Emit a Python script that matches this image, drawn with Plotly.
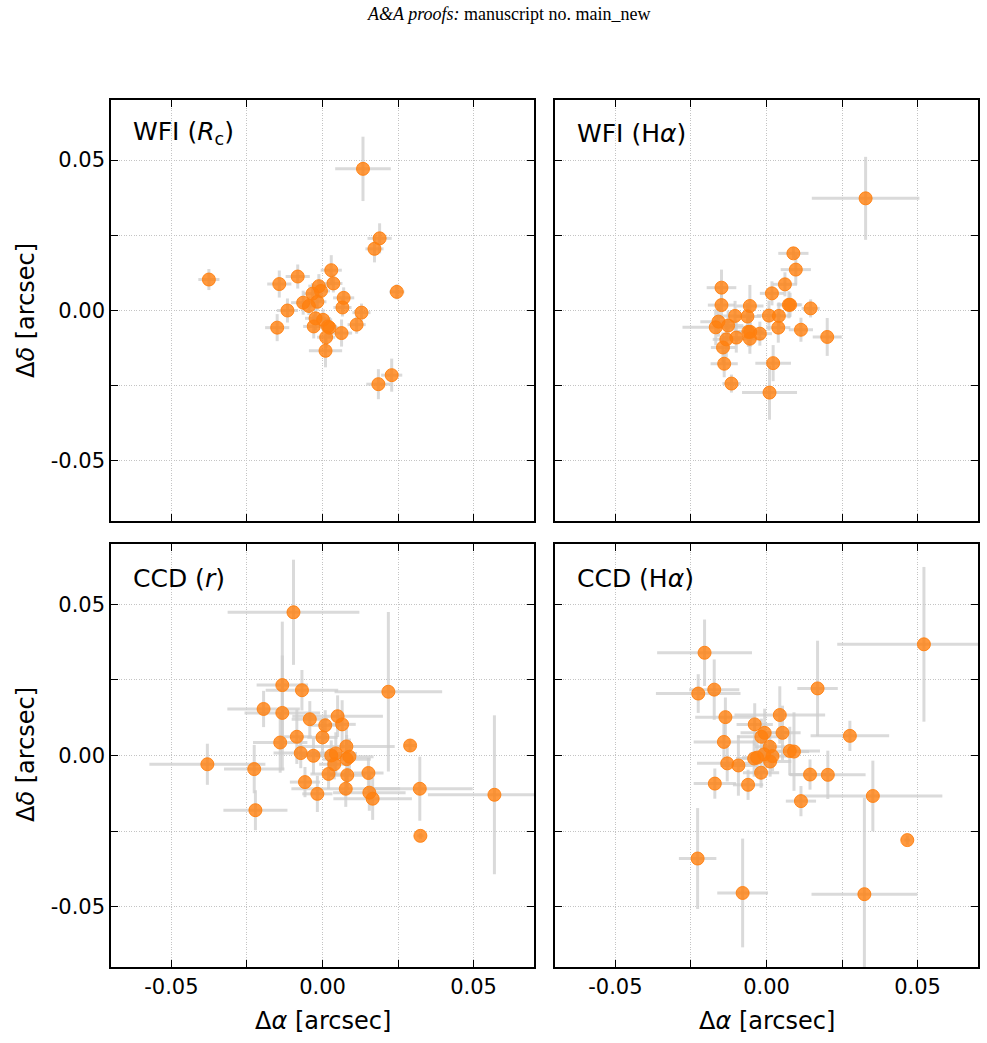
import plotly.graph_objects as go

# ---------------- data (arcsec) ----------------
# WFI (Rc)
wfi_r_dx = [0.0134, 0.0189, 0.0172, -0.0376, 0.0029, -0.0082, -0.0143, 0.0036, -0.0012, -0.0005,
            -0.0033, 0.0070, -0.0017, -0.0064, -0.0045, 0.0066, -0.0116, 0.0246, 0.0129, -0.0023,
            0.0002, -0.0029, 0.0018, 0.0023, -0.0150, 0.0113, 0.0063, 0.0012, 0.0010, 0.0185, 0.0229]
wfi_r_dy = [0.0471, 0.0240, 0.0205, 0.0103, 0.0134, 0.0113, 0.0088, 0.0090, 0.0081, 0.0065,
            0.0056, 0.0042, 0.0029, 0.0026, 0.0015, 0.0010, 0.0000, 0.0062, -0.0007, -0.0026,
            -0.0031, -0.0053, -0.0053, -0.0057, -0.0057, -0.0047, -0.0075, -0.0089, -0.0134, -0.0245, -0.0215]
wfi_r_ex = [0.0092, 0.0040, 0.0030, 0.0035, 0.0035, 0.0040, 0.0040, 0.0030, 0.0035, 0.0030,
            0.0030, 0.0035, 0.0030, 0.0040, 0.0030, 0.0030, 0.0035, 0.0025, 0.0030, 0.0035,
            0.0030, 0.0035, 0.0030, 0.0030, 0.0040, 0.0030, 0.0035, 0.0030, 0.0055, 0.0040, 0.0035]
wfi_r_ey = [0.0107, 0.0050, 0.0045, 0.0035, 0.0050, 0.0040, 0.0045, 0.0030, 0.0040, 0.0035,
            0.0035, 0.0035, 0.0030, 0.0040, 0.0030, 0.0030, 0.0040, 0.0025, 0.0030, 0.0040,
            0.0035, 0.0040, 0.0030, 0.0035, 0.0045, 0.0030, 0.0045, 0.0035, 0.0055, 0.0050, 0.0055]

# WFI (Halpha)
wfi_h_dx = [0.0328, 0.0089, 0.0097, 0.0061, 0.0018, -0.0149, -0.0149, -0.0055, 0.0074, 0.0078,
            0.0146, -0.0104, -0.0063, 0.0008, 0.0041, -0.0159, -0.0168, -0.0127, 0.0039, 0.0114,
            -0.0060, -0.0054, -0.0022, -0.0055, -0.0100, -0.0133, -0.0144, 0.0201, 0.0022, -0.0140,
            -0.0116, 0.0010]
wfi_h_dy = [0.0373, 0.0190, 0.0136, 0.0087, 0.0057, 0.0076, 0.0018, 0.0015, 0.0019, 0.0019,
            0.0007, -0.0018, -0.0020, -0.0017, -0.0018, -0.0037, -0.0056, -0.0050, -0.0057, -0.0064,
            -0.0071, -0.0071, -0.0077, -0.0094, -0.0090, -0.0096, -0.0123, -0.0088, -0.0175, -0.0177,
            -0.0243, -0.0273]
wfi_h_ex = [0.0178, 0.0050, 0.0050, 0.0040, 0.0040, 0.0049, 0.0045, 0.0045, 0.0040, 0.0040,
            0.0030, 0.0060, 0.0045, 0.0040, 0.0040, 0.0060, 0.0110, 0.0050, 0.0040, 0.0040,
            0.0045, 0.0045, 0.0040, 0.0045, 0.0045, 0.0045, 0.0040, 0.0048, 0.0059, 0.0045,
            0.0030, 0.0091]
wfi_h_ey = [0.0138, 0.0020, 0.0050, 0.0040, 0.0040, 0.0060, 0.0045, 0.0070, 0.0045, 0.0040,
            0.0030, 0.0050, 0.0045, 0.0050, 0.0045, 0.0050, 0.0060, 0.0050, 0.0050, 0.0040,
            0.0050, 0.0050, 0.0040, 0.0050, 0.0050, 0.0060, 0.0050, 0.0063, 0.0060, 0.0045,
            0.0030, 0.0090]

# CCD (r)
ccd_r_dx = [-0.0096, -0.0133, -0.0068, 0.0218, -0.0195, -0.0133, -0.0042, 0.0050, 0.0009, 0.0065,
            -0.0085, 0.0000, -0.0140, 0.0079, 0.0290, -0.0072, -0.0030, 0.0029, 0.0044, 0.0080,
            0.0089, 0.0039, -0.0381, -0.0226, 0.0020, 0.0082, 0.0152, -0.0058, -0.0017, 0.0077,
            0.0155, 0.0166, 0.0322, 0.0569, -0.0222, 0.0324]
ccd_r_dy = [0.0474, 0.0233, 0.0216, 0.0211, 0.0154, 0.0141, 0.0120, 0.0130, 0.0100, 0.0103,
            0.0062, 0.0060, 0.0043, 0.0030, 0.0033, 0.0008, -0.0001, 0.0000, 0.0007, -0.0012,
            -0.0004, -0.0029, -0.0029, -0.0045, -0.0061, -0.0065, -0.0058, -0.0088, -0.0127, -0.0110,
            -0.0123, -0.0143, -0.0110, -0.0130, -0.0181, -0.0266]
ccd_r_ex = [0.0218, 0.0085, 0.0120, 0.0178, 0.0120, 0.0125, 0.0060, 0.0150, 0.0050, 0.0045,
            0.0050, 0.0050, 0.0090, 0.0160, 0.0020, 0.0090, 0.0040, 0.0050, 0.0070, 0.0080,
            0.0080, 0.0050, 0.0192, 0.0100, 0.0060, 0.0060, 0.0050, 0.0050, 0.0050, 0.0180,
            0.0120, 0.0130, 0.0175, 0.0220, 0.0106, 0.0010]
ccd_r_ey = [0.0174, 0.0210, 0.0067, 0.0264, 0.0060, 0.0190, 0.0060, 0.0069, 0.0050, 0.0080,
            0.0090, 0.0060, 0.0100, 0.0060, 0.0020, 0.0050, 0.0060, 0.0050, 0.0070, 0.0080,
            0.0060, 0.0050, 0.0068, 0.0080, 0.0050, 0.0050, 0.0050, 0.0050, 0.0060, 0.0060,
            0.0060, 0.0070, 0.0106, 0.0263, 0.0066, 0.0010]

# CCD (Halpha)
ccd_h_dx = [0.0521, -0.0205, -0.0173, -0.0226, 0.0169, -0.0136, 0.0044, -0.0039, -0.0006, -0.0017,
            0.0053, 0.0276, -0.0141, 0.0011, 0.0077, 0.0091, -0.0008, 0.0020, -0.0041, -0.0031,
            0.0012, -0.0130, -0.0093, -0.0018, 0.0144, 0.0203, -0.0171, -0.0061, 0.0114, 0.0352,
            0.0466, -0.0228, -0.0079, 0.0324]
ccd_h_dy = [0.0368, 0.0340, 0.0218, 0.0205, 0.0222, 0.0127, 0.0134, 0.0103, 0.0075, 0.0062,
            0.0075, 0.0065, 0.0045, 0.0029, 0.0015, 0.0013, 0.0004, -0.0002, -0.0010, -0.0007,
            -0.0020, -0.0026, -0.0033, -0.0057, -0.0063, -0.0064, -0.0093, -0.0097, -0.0151, -0.0134,
            -0.0280, -0.0341, -0.0455, -0.0459]
ccd_h_ex = [0.0287, 0.0157, 0.0083, 0.0140, 0.0067, 0.0100, 0.0150, 0.0060, 0.0080, 0.0080,
            0.0060, 0.0130, 0.0100, 0.0050, 0.0100, 0.0050, 0.0050, 0.0050, 0.0060, 0.0050,
            0.0070, 0.0100, 0.0060, 0.0060, 0.0070, 0.0125, 0.0070, 0.0050, 0.0050, 0.0230,
            0.0010, 0.0062, 0.0084, 0.0175]
ccd_h_ey = [0.0256, 0.0110, 0.0100, 0.0064, 0.0158, 0.0065, 0.0095, 0.0070, 0.0080, 0.0060,
            0.0090, 0.0050, 0.0060, 0.0050, 0.0080, 0.0130, 0.0060, 0.0050, 0.0060, 0.0060,
            0.0050, 0.0060, 0.0100, 0.0050, 0.0050, 0.0080, 0.0050, 0.0050, 0.0050, 0.0117,
            0.0015, 0.0167, 0.0180, 0.0320]

panel_labels = ["WFI (<i>R</i><sub>c</sub>)", "WFI (H<i>α</i>)", "CCD (<i>r</i>)", "CCD (H<i>α</i>)"]
major_ticks = [-0.05, 0.0, 0.05]
major_text = ["-0.05", "0.00", "0.05"]
minor_ticks = [-0.025, 0.025]
axis_range = [-0.07, 0.07]

# ---------------- layout ----------------
W, H = 987, 1043
xdoms = [[111 / W, 534 / W], [555 / W, 978 / W]]
ydoms = [[1 - 521 / H, 1 - 100 / H], [1 - 967 / H, 1 - 544 / H]]

panels = [
    (wfi_r_dx, wfi_r_dy, wfi_r_ex, wfi_r_ey),
    (wfi_h_dx, wfi_h_dy, wfi_h_ex, wfi_h_ey),
    (ccd_r_dx, ccd_r_dy, ccd_r_ex, ccd_r_ey),
    (ccd_h_dx, ccd_h_dy, ccd_h_ex, ccd_h_ey),
]

fig = go.Figure()
err_color = "rgba(205,205,205,0.75)"
pt_color = "rgba(255,127,14,0.8)"

for i, (dx, dy, ex, ey) in enumerate(panels):
    n = i + 1
    fig.add_trace(go.Scatter(
        x=dx, y=dy, mode="markers",
        xaxis="x" if n == 1 else f"x{n}",
        yaxis="y" if n == 1 else f"y{n}",
        marker=dict(size=13, color=pt_color, line=dict(width=1, color="rgba(255,127,14,0.9)")),
        error_x=dict(type="data", array=ex, visible=True, color=err_color, thickness=3, width=0),
        error_y=dict(type="data", array=ey, visible=True, color=err_color, thickness=3, width=0),
        showlegend=False,
    ))

layout = dict(
    width=W, height=H,
    margin=dict(l=0, r=0, t=0, b=0),
    paper_bgcolor="white", plot_bgcolor="white",
    font=dict(family="DejaVu Sans", color="black"),
)

grid_col = "#c4c4c4"
grid_dash = "1px,1.5px"

for i in range(4):
    n = i + 1
    row, col = divmod(i, 2)
    xa = "xaxis" if n == 1 else f"xaxis{n}"
    ya = "yaxis" if n == 1 else f"yaxis{n}"
    xname = "x" if n == 1 else f"x{n}"
    yname = "y" if n == 1 else f"y{n}"
    common = dict(
        range=axis_range, tickmode="array", tickvals=major_ticks, ticktext=major_text,
        ticks="inside", ticklen=7, tickwidth=1.3, tickcolor="black",
        showline=True, linecolor="black", linewidth=1.5, mirror="allticks",
        showgrid=True, gridcolor=grid_col, gridwidth=0.7, griddash=grid_dash,
        zeroline=False, tickfont=dict(size=21, family="DejaVu Sans", color="black"),
        minor=dict(tickmode="array", tickvals=minor_ticks, ticks="inside", ticklen=7,
                   tickwidth=1.3, tickcolor="black", showgrid=True,
                   gridcolor=grid_col, gridwidth=0.7, griddash=grid_dash),
    )
    layout[xa] = dict(common, domain=xdoms[col], anchor=yname, showticklabels=(row == 1))
    layout[ya] = dict(common, domain=ydoms[row], anchor=xname, showticklabels=(col == 0))

fig.update_layout(**layout)

annotations = []
# panel labels
for i, lab in enumerate(panel_labels):
    row, col = divmod(i, 2)
    annotations.append(dict(
        text=lab, xref="paper", yref="paper",
        x=(131 if col == 0 else 575) / W,
        y=1 - (133 if row == 0 else 578) / H,
        xanchor="left", yanchor="middle", showarrow=False,
        font=dict(size=25, family="DejaVu Sans", color="black"),
    ))
# axis titles
for col in range(2):
    annotations.append(dict(
        text="Δ<i>α</i> [arcsec]", xref="paper", yref="paper",
        x=(323 if col == 0 else 767) / W, y=1 - 1021 / H,
        xanchor="center", yanchor="middle", showarrow=False,
        font=dict(size=24, family="DejaVu Sans", color="black"),
    ))
for row in range(2):
    annotations.append(dict(
        text="Δ<i>δ</i> [arcsec]", xref="paper", yref="paper",
        x=26 / W, y=1 - (311 if row == 0 else 755) / H, textangle=-90,
        xanchor="center", yanchor="middle", showarrow=False,
        font=dict(size=24, family="DejaVu Sans", color="black"),
    ))
# page header
annotations.append(dict(
    text="<i>A&amp;A proofs:</i> manuscript no. main_new", xref="paper", yref="paper",
    x=509 / W, y=1 - 14 / H, xanchor="center", yanchor="middle", showarrow=False,
    font=dict(size=18, family="Liberation Serif", color="black"),
))
fig.update_layout(annotations=annotations)

fig.write_html("out.html")
